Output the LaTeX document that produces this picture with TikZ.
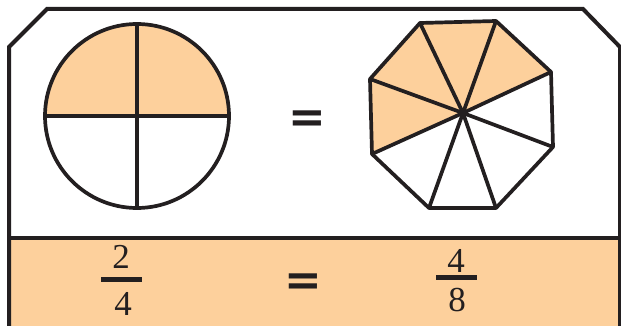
\documentclass[tikz,border=0pt]{standalone}
\usepackage{fontspec}
\setmainfont{Liberation Serif}
\newfontfamily\eqfont{DejaVu Sans}
\usepackage{tikz}
\usepackage{xcolor}
\usetikzlibrary{calc}
\definecolor{inkblack}{HTML}{231F20}
\definecolor{pieorange}{HTML}{FDD09C}

\begin{document}
\begin{tikzpicture}[
  x=1pt, y=-1pt,
  every node/.style={inner sep=0pt},
  outline/.style={draw=inkblack, line width=4pt, line join=miter},
  piece/.style={draw=inkblack, line width=3.7pt, line join=round},
  digit/.style={font=\fontsize{35}{37}\selectfont, text=inkblack},
  equals/.style={font=\eqfont\bfseries\fontsize{45}{45}\selectfont, text=inkblack},
  fracbar/.style={draw=inkblack, line width=4.5pt},
]
\useasboundingbox (0,0) rectangle (621,326);

% Frame and answer band
\fill[pieorange] (9,238) rectangle (620,330);
\draw[outline] (9,330) -- (9,47) -- (47,9) -- (583,9) -- (620,47) -- (620,330);
\draw[outline] (9,238) -- (620,238);

% Circle in quarters
\coordinate (cc) at (137,116);
\fill[pieorange] (cc) ++(-92,0) arc[start angle=180, end angle=360, radius=92] -- cycle;
\draw[piece] (cc) circle (92);
\draw[piece] ($(cc)+(-92,0)$) -- ($(cc)+(92,0)$);
\draw[piece] ($(cc)+(0,-92)$) -- ($(cc)+(0,92)$);

% Octagon in eighths
\coordinate (oc) at (463,113);
\coordinate (v1) at (420,23);
\coordinate (v2) at (496,21);
\coordinate (v3) at (551,72);
\coordinate (v4) at (553,147);
\coordinate (v5) at (496,208);
\coordinate (v6) at (429,208);
\coordinate (v7) at (372,154);
\coordinate (v8) at (370,79);
\fill[pieorange] (oc) -- (v7) -- (v8) -- (v1) -- (v2) -- (v3) -- cycle;
\draw[piece] (v1) -- (v2) -- (v3) -- (v4) -- (v5) -- (v6) -- (v7) -- (v8) -- cycle;
\foreach \v in {1,...,8}
  \draw[piece] (oc) -- (v\v);

% Equals signs
\node[equals] (eqtop) at (307,122) {=};
\node[equals] (eqbot) at (303,285) {=};

% Fractions
\node[digit] (numL) at (121,257) {2};
\node[digit] (denL) at (123,304) {4};
\draw[fracbar] (101,279.5) -- (142,279.5);
\node[digit] (numR) at (456,261) {4};
\node[digit] (denR) at (457,300) {8};
\draw[fracbar] (436,277.5) -- (477,277.5);
\end{tikzpicture}
\end{document}
